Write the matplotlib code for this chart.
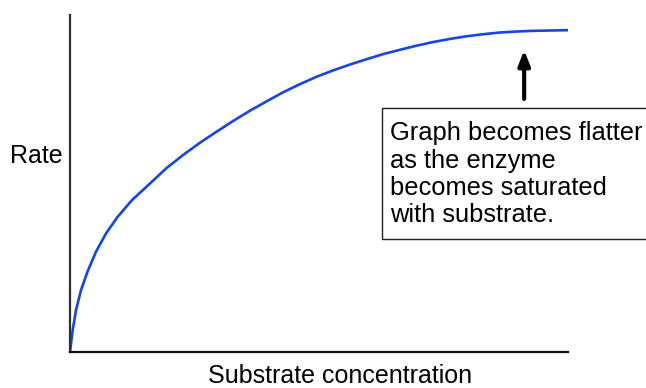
import matplotlib
matplotlib.use("Agg")
import matplotlib.pyplot as plt
from matplotlib.patches import Rectangle

# Data (substrate concentration vs rate, arbitrary units)
substrate = [0, 0.54, 1.2, 2.2, 3.55, 5.2, 7.2, 9.5, 12.4, 16.06, 19.4, 22.75,
             26.1, 29.46, 32.8, 36.14, 39.5, 42.83, 46.2, 49.54, 52.9, 56.22,
             59.6, 62.9, 66.3, 69.6, 73.0, 76.3, 79.7, 83.0, 86.3, 89.7, 93.0,
             96.4, 100]
rate = [0, 6.5, 12.4, 18.3, 24.0, 29.7, 35.1, 40.0, 45.0, 50.0, 54.6, 58.5,
        62.1, 65.4, 68.6, 71.6, 74.4, 77.1, 79.5, 81.7, 83.6, 85.3,
        86.9, 88.4, 89.7, 90.9, 92.0, 92.9, 93.7, 94.3, 94.8, 95.1, 95.3,
        95.4, 95.5]

x_label = "Substrate concentration"
y_label = "Rate"
note = "Graph becomes flatter\nas the enzyme\nbecomes saturated\nwith substrate."
arrow_x = 91.2
arrow_tail = 75.1
arrow_tip = 89.6

plt.rcParams['font.family'] = ['Liberation Sans', 'DejaVu Sans']

W, H = 646, 388
fig = plt.figure(figsize=(W / 100, H / 100), dpi=100)
ax = fig.add_axes([70 / W, (H - 352) / H, 498 / W, 337 / H])

ax.plot(substrate, rate, color='#1446e6', lw=1.9, solid_joinstyle='round')
ax.set_xlim(0, 100)
ax.set_ylim(0, 100)
ax.set_xticks([])
ax.set_yticks([])
for s in ['top', 'right']:
    ax.spines[s].set_visible(False)
ax.spines['left'].set_color('#2e2e2e')
ax.spines['left'].set_linewidth(1.6)
ax.spines['bottom'].set_color('#111111')
ax.spines['bottom'].set_linewidth(1.6)

ax.annotate('', xy=(arrow_x, arrow_tip), xytext=(arrow_x, arrow_tail),
            arrowprops=dict(arrowstyle='-|>,head_length=0.9,head_width=0.35',
                            color='black', lw=3, shrinkA=0, shrinkB=0))

# text box (extends past right figure edge)
fig.patches.append(Rectangle((382 / W, (H - 239) / H), 300 / W, 131 / H,
                             transform=fig.transFigure, fill=False,
                             edgecolor='#222222', lw=1.0))
fig.text(390 / W, (H - 222) / H, note, ha='left', va='baseline', fontsize=18.4,
         linespacing=1.17, color='black')

fig.text(10 / W, (H - 163) / H, y_label, ha='left', va='baseline', fontsize=18)
fig.text(340 / W, (H - 383) / H, x_label, ha='center', va='baseline', fontsize=18)

fig.savefig('out.png', dpi=100)
